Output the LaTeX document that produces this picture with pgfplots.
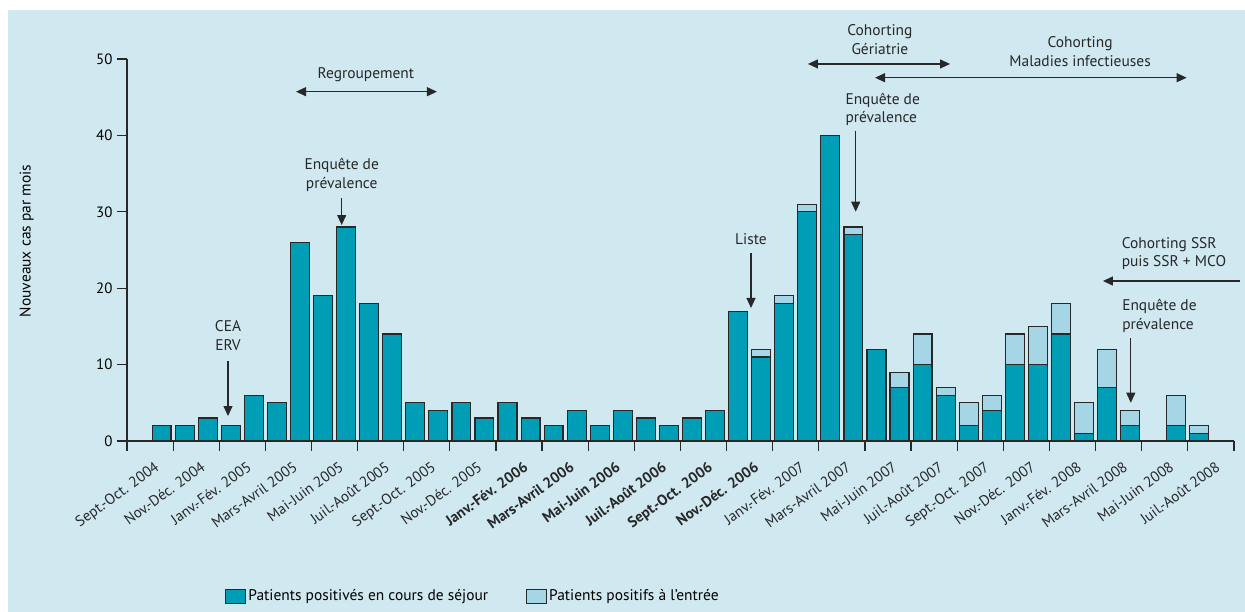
\documentclass[border=0pt]{standalone}
\usepackage{fontspec}
\setmainfont{PT Sans}
\usepackage{pgfplots}
\usepackage{pgfplotstable}
\pgfplotsset{compat=1.18}
\usetikzlibrary{arrows.meta}
\definecolor{bgc}{RGB}{208,232,240}
\definecolor{dark}{RGB}{0,157,182}
\definecolor{light}{RGB}{166,214,230}
\definecolor{edge}{RGB}{40,40,40}

% m: month index (0 = Sept. 2004); a: positivés en cours de séjour; t: total (a + positifs à l'entrée)
\pgfplotstableread{
m a t
0 0 0
1 2 2
2 2 2
3 3 3
4 2 2
5 6 6
6 5 5
7 26 26
8 19 19
9 28 28
10 18 18
11 14 14
12 5 5
13 4 4
14 5 5
15 3 3
16 5 5
17 3 3
18 2 2
19 4 4
20 2 2
21 4 4
22 3 3
23 2 2
24 3 3
25 4 4
26 17 17
27 11 12
28 18 19
29 30 31
30 40 40
31 27 28
32 12 12
33 7 9
34 10 14
35 6 7
36 2 5
37 4 6
38 10 14
39 10 15
40 14 18
41 1 5
42 7 12
43 2 4
44 0 0
45 2 6
46 1 2
47 0 0
}\datatable

\begin{document}
\begin{tikzpicture}[x=1bp,y=1bp]
\path[use as bounding box, fill=white] (-127,-171) rectangle (1118,441);
\fill[bgc] (-119,-171) rectangle (1118,431);
\begin{axis}[
  at={(0,0)}, anchor=south west,
  x=23.06bp, y=7.64bp,
  xmin=-0.5, xmax=47.5, ymin=0, ymax=50,
  axis lines*=left,
  axis line style={line width=1.3bp, color=edge},
  clip=false,
  ybar, bar width=0.82, bar shift=0pt,
  tick align=outside,
  major tick length=10bp,
  every tick/.style={line width=1.2bp, color=edge},
  ytick={0,10,...,50},
  yticklabel style={font=\fontsize{15}{18}\selectfont, xshift=-1bp},
  /pgf/number format/assume math mode=true,
  xtick={-0.5,1.5,...,47.5},
  xticklabels={},
  ylabel={Nouveaux cas par mois},
  every axis y label/.style={at={(rel axis cs:-0.0906,0.5236)}, rotate=90, anchor=center, font=\fontsize{15.5}{17}\selectfont},
  legend columns=2,
  legend style={at={(rel axis cs:0.3126,-0.4058)}, anchor=center, draw=none, fill=none, font=\fontsize{15.5}{17}\selectfont,
    /tikz/every even column/.append style={column sep=36bp}},
  legend image code/.code={\draw[#1, line width=1bp] (0bp,-7bp) rectangle (20bp,7bp);},
]
\addplot[fill=light, draw=edge, line width=1.2bp, forget plot] table[x=m,y=t]{\datatable};
\addplot[fill=dark, draw=edge, line width=1.2bp] table[x=m,y=a]{\datatable};
\addlegendentry{Patients positivés en cours de séjour}
\addlegendimage{fill=light, draw=edge}
\addlegendentry{Patients positifs à l’entrée}

\tikzset{arr/.style={line width=1.1bp, color=edge, -{Triangle[length=10bp,width=9bp]}},
         darr/.style={line width=1.1bp, color=edge, {Triangle[length=10bp,width=9bp]}-{Triangle[length=10bp,width=9bp]}},
         lab/.style={font=\fontsize{15.5}{18.3}\selectfont, align=center, inner sep=0pt, text=edge}}
% Regroupement
\draw[darr] (axis cs:6.83,45.72) -- (axis cs:12.94,45.72);
\node[lab] at (axis cs:9.86,48.0) {Regroupement};
% CEA ERV
\node[lab] at (axis cs:3.88,13.81) {CEA\\ERV};
\draw[arr] (axis cs:3.88,10.47) -- (axis cs:3.88,3.27);
% Enquete 1
\node[lab] at (axis cs:8.81,34.84) {Enquête de\\prévalence};
\draw[arr] (axis cs:8.81,31.81) -- (axis cs:8.81,28.27);
% Liste
\node[lab] at (axis cs:26.56,26.44) {Liste};
\draw[arr] (axis cs:26.56,24.61) -- (axis cs:26.56,17.41);
% Cohorting Geriatrie
\node[lab] at (axis cs:32.15,52.55) {Cohorting\\Gériatrie};
\draw[darr] (axis cs:29.03,49.35) -- (axis cs:35.19,49.35);
% Cohorting Maladies infectieuses
\node[lab] at (axis cs:40.83,50.98) {Cohorting\\Maladies infectieuses};
\draw[darr] (axis cs:31.94,47.55) -- (axis cs:45.45,47.55);
% Enquete 2
\node[lab, align=left] at (axis cs:32.27,43.44) {Enquête de\\prévalence};
\draw[arr] (axis cs:31.1,40.62) -- (axis cs:31.1,30.01);
% Cohorting SSR
\node[lab, align=left, anchor=west] at (axis cs:42.63,24.57) {Cohorting SSR\\puis SSR + MCO};
\draw[arr] (axis cs:47.77,20.94) -- (axis cs:41.82,20.94);
% Enquete 3
\node[lab, align=left, anchor=west] at (axis cs:42.65,16.38) {Enquête de\\prévalence};
\draw[arr] (axis cs:43.03,13.48) -- (axis cs:43.03,5.01);
\end{axis}
% category labels (two months per label), centred on each pair of months
\foreach \t [count=\i from 0] in {Sept.-Oct. 2004, Nov.-Déc. 2004, Janv.-Fév. 2005, Mars-Avril 2005, Mai-Juin 2005, Juil.-Août 2005, Sept.-Oct. 2005, Nov.-Déc. 2005, \textbf{Janv.-Fév. 2006}, \textbf{Mars-Avril 2006}, \textbf{Mai-Juin 2006}, \textbf{Juil.-Août 2006}, \textbf{Sept.-Oct. 2006}, \textbf{Nov.-Déc. 2006}, Janv.-Fév. 2007, Mars-Avril 2007, Mai-Juin 2007, Juil.-Août 2007, Sept.-Oct. 2007, Nov.-Déc. 2007, Janv.-Fév. 2008, Mars-Avril 2008, Mai-Juin 2008, Juil.-Août 2008}
  \node[font=\fontsize{15}{17}\selectfont, text=edge, rotate=36, anchor=north east, inner sep=1bp] at ({27.06+46.12*\i}, -18) {\t};
\end{tikzpicture}
\end{document}
